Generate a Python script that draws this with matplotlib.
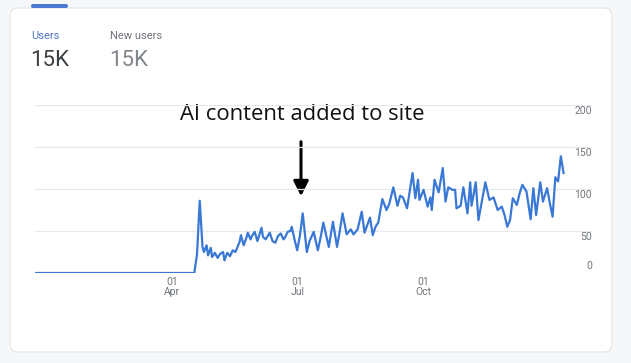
import matplotlib
matplotlib.use("Agg")
import matplotlib.pyplot as plt
from matplotlib.patches import FancyBboxPatch
import pandas as pd

# Daily users (days relative to 01 Apr)
day_offsets = [
    -100, 16, 18, 20, 22, 23, 25, 26, 28, 29, 31, 33, 35, 37, 38, 40, 42, 44,
    46, 47, 49, 50, 52, 54, 55, 57, 58, 60, 62, 65, 66, 68, 71, 73, 75, 77, 79,
    81, 82, 84, 86, 87, 89, 91, 93, 95, 98, 100, 103, 106, 108, 110, 114, 117,
    120, 122, 124, 127, 130, 132, 135, 138, 140, 144, 146, 148, 150, 153, 156,
    158, 161, 164, 166, 168, 171, 175, 177, 179, 180, 183, 186, 188, 189, 191,
    194, 197, 199, 201, 204, 206, 207, 210, 212, 215, 217, 218, 221, 223, 226,
    228, 231, 234, 237, 240, 242, 244, 246, 248, 251, 253, 255, 258, 261, 263,
    265, 268, 270, 273, 275, 277, 279, 281, 283, 285,
]
users = [
    0, 0, 22, 86, 31, 25, 33, 21, 30, 19, 24, 18, 23, 25, 15, 24, 20, 27,
    25, 29, 37, 45, 33, 42, 48, 40, 44, 49, 38, 54, 43, 40, 48, 38, 36, 44, 47,
    40, 42, 49, 50, 55, 40, 27, 45, 71, 25, 38, 49, 27, 42, 60, 31, 61,
    31, 50, 71, 46, 52, 46, 52, 73, 48, 66, 45, 55, 60, 88, 75,
    82, 102, 80, 92, 90, 77, 119, 89, 111, 87, 99, 79, 90, 75, 111,
    96, 125, 85, 102, 99, 99, 77, 80, 102, 71, 108, 80, 108, 63, 90,
    108, 87, 90, 75, 79, 69, 55, 63, 89, 81, 95, 105, 97, 64, 101,
    69, 108, 85, 101, 83, 67, 114, 109, 139, 119,
]

x_ticks = ["2023-04-01", "2023-07-01", "2023-10-01"]
x_tick_labels = ["01\nApr", "01\nJul", "01\nOct"]
y_ticks = [0, 50, 100, 150, 200]

base_date = pd.Timestamp("2023-04-01")
dates = base_date + pd.to_timedelta(day_offsets, unit="D")

W, H = 631, 363
fig = plt.figure(figsize=(W / 100, H / 100), dpi=100)
fig.patch.set_facecolor("#f6f7f8")

# Card background, drawn in pixel coordinates
bg = fig.add_axes([0, 0, 1, 1])
bg.set_xlim(0, W)
bg.set_ylim(H, 0)
bg.axis("off")
bg.add_patch(FancyBboxPatch((10, 8), 602, 344, boxstyle="round,pad=0,rounding_size=8",
                            facecolor="white", edgecolor="#e3e5e8", linewidth=0.8))
bg.add_patch(FancyBboxPatch((31, 4), 37, 4, boxstyle="round,pad=0,rounding_size=2",
                            facecolor="#4a7bd0", edgecolor="none"))

# Header metrics
bg.text(31, 36, "Users", fontsize=8, color="#4f74c4", family="Roboto", va="center")
bg.text(30, 61, "15K", fontsize=16, color="#3c4043", family="Roboto", va="center")
bg.text(110, 36, "New users", fontsize=8, color="#70757a", family="Roboto", va="center")
bg.text(109, 61, "15K", fontsize=16, color="#80868b", family="Roboto", va="center")

# Chart area
ax = fig.add_axes([35 / W, 1 - 273 / H, (592 - 35) / W, (273 - 105) / H])
ax.set_facecolor("none")
ax.plot(dates, users, color="#3a78d6", linewidth=1.6, zorder=3)

x_left = base_date - pd.Timedelta(days=100)
x_right = base_date + pd.Timedelta(days=305.7)
ax.set_xlim(x_left, x_right)
ax.set_ylim(0, 200)

for v in y_ticks:
    ax.axhline(v, color="#e6e8eb", linewidth=0.9, zorder=1)
    offset = 7 if v == 0 else -6
    ax.annotate(str(v), xy=(1, v), xycoords=("axes fraction", "data"),
                xytext=(0, offset * 0.72), textcoords="offset points",
                ha="right", va="center", fontsize=7.5, color="#70757a", family="Roboto")

ax.set_yticks([])
ax.set_xticks(pd.to_datetime(x_ticks))
ax.set_xticklabels(x_tick_labels, fontsize=7.5, color="#70757a", family="Roboto",
                   linespacing=0.95)
ax.tick_params(axis="x", length=0, pad=3)
for spine in ax.spines.values():
    spine.set_visible(False)

# Annotation
bg.text(302, 115, "AI content added to site", fontsize=15.8, color="#111111",
        family="Open Sans", ha="center", va="center")
bg.annotate("", xy=(301, 199), xytext=(301, 139),
            arrowprops=dict(arrowstyle="-|>,head_width=0.45,head_length=0.9",
                            color="black", linewidth=2.2))

fig.savefig("out.png", dpi=100)
